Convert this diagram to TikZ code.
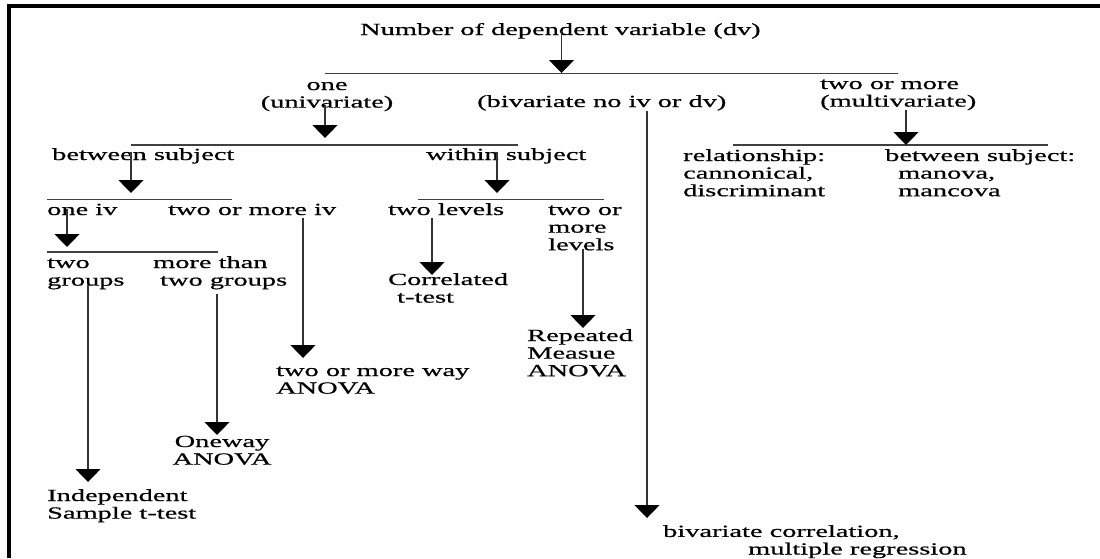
\documentclass[tikz,border=0pt]{standalone}
\usepackage{fontspec}
\setmainfont{Liberation Serif}[FakeStretch=1.67, FakeBold=0.7]
\usepackage{tikz}
\usetikzlibrary{arrows.meta}
\newcommand\chartfont{\fontsize{17}{17.6}\selectfont}
\tikzset{
  labeltext/.style={anchor=base west, inner sep=0pt, align=left, font=\chartfont, text=black},
  midtext/.style={labeltext, anchor=base, align=center},
  barline/.style={draw=black!75, line width=1.3pt},
  downarr/.style={draw=black!80, line width=1.3pt, -{Triangle[width=25pt,length=13pt,black]}},
  frameline/.style={draw=black, line width=4pt}
}

\begin{document}
\begin{tikzpicture}[x=1pt,y=-1pt]
\useasboundingbox (0,0) rectangle (1100,558);
% frame, top and left only
\draw[frameline] (6.5,6) -- (1100,6);
\draw[frameline] (8.5,4) -- (8.5,558);

% labels (multi-line ones sit on their last baseline)
\node[labeltext] (dv) at (360,35) {Number of dependent variable (dv)};
\node[midtext] (uni) at (327,107.6) {one\\(univariate)};
\node[labeltext] (biv) at (477,107) {(bivariate no iv or dv)};
\node[labeltext] (multi) at (820,106.6) {two or more\\(multivariate)};
\node[labeltext] (rel) at (683,196.2) {relationship:\\cannonical,\\discriminant};
\node[labeltext] (manova) at (885,196.2) {between subject:\\\hspace*{13pt}manova,\\\hspace*{13pt}mancova};
\node[labeltext] (betw) at (52,160) {between subject};
\node[labeltext] (within) at (426,160) {within subject};
\node[labeltext] (oneiv) at (47,215) {one iv};
\node[labeltext] (twoiv) at (168,215) {two or more iv};
\node[labeltext] (twolev) at (388,215) {two levels};
\node[labeltext] (morelev) at (548,250.2) {two or\\more\\levels};
\node[labeltext] (twogrp) at (47,285.6) {two\\groups};
\node[labeltext] (moregrp) at (153,285.6) {more than\\\hspace*{7pt}two groups};
\node[labeltext] (corr) at (388,302.6) {Correlated\\\hspace*{9pt}t-test};
\node[labeltext] (rm) at (527,376.2) {Repeated\\Measue\\ANOVA};
\node[labeltext] (twoway) at (276,393.6) {two or more way\\ANOVA};
\node[midtext] (oneway) at (222,464.6) {Oneway\\ANOVA};
\node[labeltext] (indep) at (47,518.6) {Independent\\Sample t-test};
\node[labeltext] (bicorr) at (663,554.5) {bivariate correlation,\\\hspace*{85pt}multiple regression};

% branch bars
\coordinate (b1w) at (325,73.5);
\coordinate (b1e) at (898,73.5);
\coordinate (b2w) at (131,145);
\coordinate (b2e) at (518,145);
\coordinate (b2mw) at (733,145);
\coordinate (b2me) at (1048,145);
\coordinate (b3w) at (47,199.5);
\coordinate (b3e) at (232,199.5);
\coordinate (b3ww) at (418,199.5);
\coordinate (b3we) at (604,199.5);
\coordinate (b4w) at (47,252);
\coordinate (b4e) at (218,252);
\draw[barline] (b1w) -- (b1e);
\draw[barline] (b2w) -- (b2e);
\draw[barline] (b2mw) -- (b2me);
\draw[barline] (b3w) -- (b3e);
\draw[barline] (b3ww) -- (b3we);
\draw[barline] (b4w) -- (b4e);

% arrow tips
\coordinate (tdv) at (561.5,73);
\coordinate (tuni) at (325,138);
\coordinate (tmulti) at (906,145);
\coordinate (tbetw) at (131,193);
\coordinate (twithin) at (497,193);
\coordinate (toneiv) at (67,247);
\coordinate (ttwoiv) at (303,358);
\coordinate (ttwogrp) at (88,482);
\coordinate (tmoregrp) at (217,435);
\coordinate (ttwolev) at (432,275);
\coordinate (tmorelev) at (583,328);
\coordinate (tbiv) at (647,518);

% arrows
\draw[downarr] (dv.center -| tdv) -- (tdv);
\draw[downarr] ([yshift=6pt]uni.south -| tuni) -- (tuni);
\draw[downarr] (multi.south -| tmulti) -- (tmulti);
\draw[downarr] (biv.south -| tbiv) -- (tbiv);
\draw[downarr] ([yshift=4pt]betw.center -| tbetw) -- (tbetw);
\draw[downarr] ([yshift=4pt]within.center -| twithin) -- (twithin);
\draw[downarr] (oneiv.center -| toneiv) -- (toneiv);
\draw[downarr] ([yshift=-3pt]twoiv.south -| ttwoiv) -- (ttwoiv);
\draw[downarr] ([yshift=4pt]twogrp.south -| ttwogrp) -- (ttwogrp);
\draw[downarr] ([yshift=-5pt]moregrp.south -| tmoregrp) -- (tmoregrp);
\draw[downarr] ([yshift=-3pt]twolev.south -| ttwolev) -- (ttwolev);
\draw[downarr] ([yshift=2pt]morelev.south -| tmorelev) -- (tmorelev);
\end{tikzpicture}
\end{document}
